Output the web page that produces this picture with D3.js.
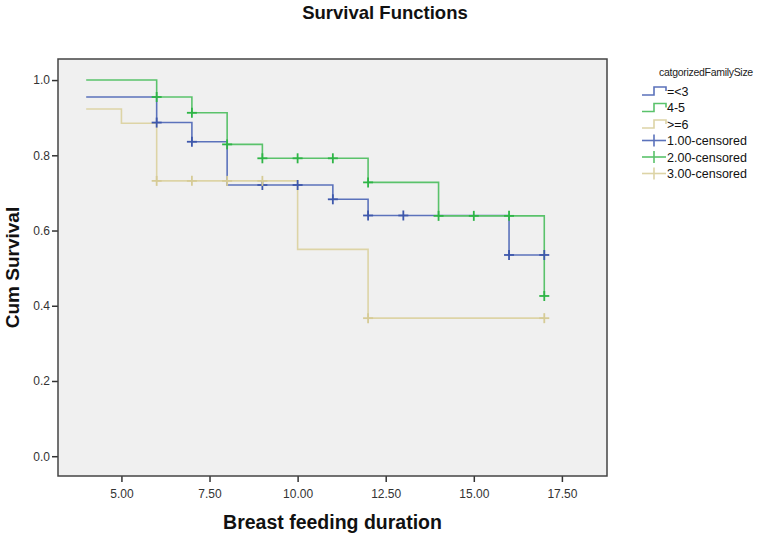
<!DOCTYPE html>
<html>
<head>
<meta charset="utf-8">
<script src="https://cdn.jsdelivr.net/npm/d3@7"></script>
<style>
  html, body { margin: 0; padding: 0; background: #fff; }
  svg { display: block; }
</style>
</head>
<body>
<svg id="chart" width="770" height="535"></svg>
<script>
// ---- data ----
const groupNames = ["=<3", "4-5", ">=6"];
const censorNames = ["1.00-censored", "2.00-censored", "3.00-censored"];

const blueTimes = [4, 6, 7, 8, 11, 12, 16, 17];
const blueSurv  = [0.955, 0.887, 0.836, 0.721, 0.683, 0.640, 0.535, 0.535];
const blueCensored = [6, 7, 9, 10, 11, 12, 13, 16, 17];

const greenTimes = [4, 6, 7, 8, 9, 12, 14, 17];
const greenSurv  = [1.0, 0.955, 0.913, 0.829, 0.792, 0.728, 0.639, 0.426];
const greenCensored = [6, 7, 8, 9, 10, 11, 12, 14, 15, 16, 17];

const tanTimes = [4, 5, 6, 10, 12, 17];
const tanSurv  = [0.923, 0.885, 0.732, 0.550, 0.367, 0.367];
const tanCensored = [6, 7, 8, 9, 12, 17];

const xTicks = [5, 7.5, 10, 12.5, 15, 17.5];
const yTicks = [0, 0.2, 0.4, 0.6, 0.8, 1.0];

// ---- layout ----
const svg = d3.select("#chart");
const plot = { left: 58, top: 59, right: 607, bottom: 476 };
const FONT = "Liberation Sans, Arial, sans-serif";

const x = d3.scaleLinear().domain([3.2, 18.78]).range([plot.left, plot.right]);
const y = d3.scaleLinear().domain([-0.0526, 1.056]).range([plot.bottom, plot.top]);

const lineColors = ["#5b72bb", "#5ac26b", "#ddd4a6"];
const markColors = ["#3e58ac", "#2eb546", "#d6cb96"];

// title
svg.append("text").attr("x", 385).attr("y", 19)
  .attr("text-anchor", "middle")
  .attr("font-family", FONT)
  .attr("font-weight", "bold").attr("font-size", 18.5).attr("fill", "#111")
  .text("Survival Functions");

// plot background
svg.append("rect")
  .attr("x", plot.left).attr("y", plot.top)
  .attr("width", plot.right - plot.left).attr("height", plot.bottom - plot.top)
  .attr("fill", "#f0f0f0");

// axes
const xAxis = d3.axisBottom(x).tickValues(xTicks).tickFormat(d3.format(".2f")).tickSize(6).tickSizeOuter(0);
const yAxis = d3.axisLeft(y).tickValues(yTicks).tickFormat(d3.format(".1f")).tickSize(6).tickSizeOuter(0);

const gx = svg.append("g").attr("transform", `translate(0,${plot.bottom})`).call(xAxis);
const gy = svg.append("g").attr("transform", `translate(${plot.left},0)`).call(yAxis);
[gx, gy].forEach(g => {
  g.select(".domain").remove();
  g.selectAll(".tick line").attr("stroke", "#333").attr("stroke-width", 1.5);
  g.selectAll(".tick text")
    .attr("font-family", FONT)
    .attr("font-size", 12).attr("fill", "#333");
});
gx.selectAll(".tick text").attr("dy", "1.05em");
gy.selectAll(".tick text").attr("x", -8);

// frame
svg.append("rect")
  .attr("x", plot.left).attr("y", plot.top)
  .attr("width", plot.right - plot.left).attr("height", plot.bottom - plot.top)
  .attr("fill", "none").attr("stroke", "#444").attr("stroke-width", 1.5);

// axis titles
svg.append("text").attr("x", (plot.left + plot.right) / 2).attr("y", 529)
  .attr("text-anchor", "middle")
  .attr("font-family", FONT)
  .attr("font-weight", "bold").attr("font-size", 19.5).attr("fill", "#111")
  .text("Breast feeding duration");

svg.append("text")
  .attr("transform", `translate(19,${(plot.top + plot.bottom) / 2}) rotate(-90)`)
  .attr("text-anchor", "middle")
  .attr("font-family", FONT)
  .attr("font-weight", "bold").attr("font-size", 19).attr("fill", "#111")
  .text("Cum Survival");

// step curves
const series = [
  { times: blueTimes, surv: blueSurv, cens: blueCensored },
  { times: greenTimes, surv: greenSurv, cens: greenCensored },
  { times: tanTimes, surv: tanSurv, cens: tanCensored }
];

const line = d3.line().x(d => x(d[0])).y(d => y(d[1])).curve(d3.curveStepAfter);

function survAt(s, t) {
  let v = s.surv[0];
  for (let i = 0; i < s.times.length; i++) if (s.times[i] <= t) v = s.surv[i];
  return v;
}

series.forEach((s, i) => {
  const pts = s.times.map((t, j) => [t, s.surv[j]]);
  svg.append("path").attr("d", line(pts))
    .attr("fill", "none").attr("stroke", lineColors[i]).attr("stroke-width", 1.6);
});

series.forEach((s, i) => {
  const g = svg.append("g").attr("stroke", markColors[i]).attr("stroke-width", 1.8);
  s.cens.forEach(t => {
    const cx = x(t), cy = y(survAt(s, t));
    g.append("line").attr("x1", cx - 5).attr("x2", cx + 5).attr("y1", cy).attr("y2", cy);
    g.append("line").attr("x1", cx).attr("x2", cx).attr("y1", cy - 5).attr("y2", cy + 5);
  });
});

// legend
const lg = svg.append("g");
lg.append("text").attr("x", 706).attr("y", 76)
  .attr("text-anchor", "middle")
  .attr("font-family", FONT)
  .attr("font-size", 10.5).attr("letter-spacing", -0.3).attr("fill", "#222")
  .text("catgorizedFamilySize");

const legY = [91, 107.5, 124, 140.5, 157, 173.5];
groupNames.forEach((name, i) => {
  const yy = legY[i];
  lg.append("path")
    .attr("d", `M642,${yy + 4}H654V${yy - 4}H666V${yy}`)
    .attr("fill", "none").attr("stroke", lineColors[i]).attr("stroke-width", 1.6);
  lg.append("text").attr("x", 667).attr("y", yy + 4.5)
    .attr("font-family", FONT)
    .attr("font-size", 12.5).attr("fill", "#111").text(name);
});
censorNames.forEach((name, i) => {
  const yy = legY[i + 3];
  lg.append("line").attr("x1", 642).attr("x2", 666).attr("y1", yy).attr("y2", yy)
    .attr("stroke", lineColors[i]).attr("stroke-width", 1.6);
  lg.append("line").attr("x1", 654).attr("x2", 654).attr("y1", yy - 6).attr("y2", yy + 6)
    .attr("stroke", lineColors[i]).attr("stroke-width", 1.6);
  lg.append("text").attr("x", 667).attr("y", yy + 4.5)
    .attr("font-family", FONT)
    .attr("font-size", 12.5).attr("fill", "#111").text(name);
});
</script>
</body>
</html>
